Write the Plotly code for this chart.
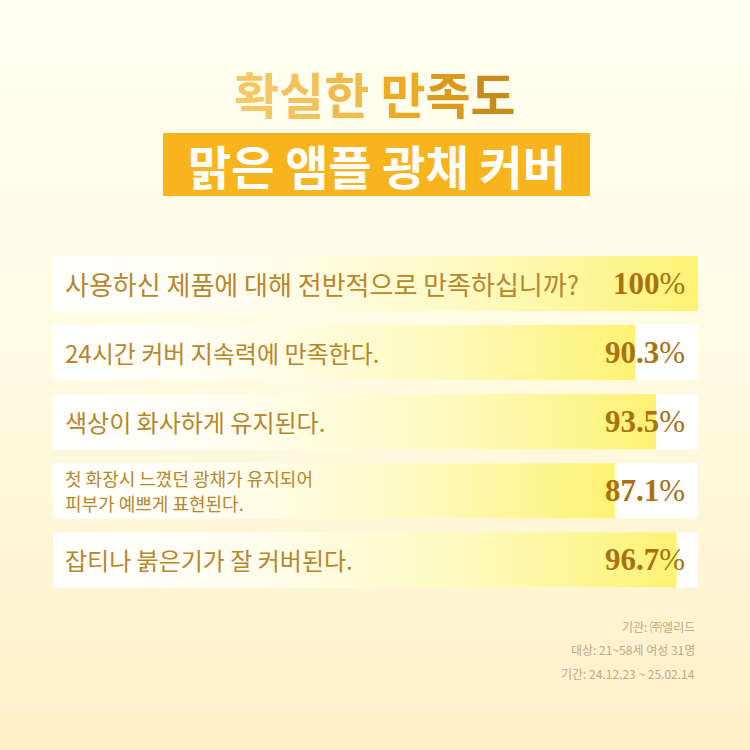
import plotly.graph_objects as go

# ---- data ----
questions = [
    ["사용하신 제품에 대해 전반적으로 만족하십니까?"],
    ["24시간 커버 지속력에 만족한다."],
    ["색상이 화사하게 유지된다."],
    ["첫 화장시 느꼈던 광채가 유지되어", "피부가 예쁘게 표현된다."],
    ["잡티나 붉은기가 잘 커버된다."],
]
values = [100, 90.3, 93.5, 87.1, 96.7]
value_labels = ["100%", "90.3%", "93.5%", "87.1%", "96.7%"]
label_sizes = [26, 24, 24, 18, 24]
title_line1 = "확실한 만족도"
title_line2 = "맑은 앰플 광채 커버"
footer_lines = ["기관: ㈜엘리드", "대상: 21~58세 여성 31명", "기간: 24.12.23 ~ 25.02.14"]

W = H = 750
KR = "Noto Sans CJK KR"
TXT = "#b8862b"
BAR_H = 0.8

bg_svg = (
    "data:image/svg+xml;utf8,"
    "<svg xmlns='http://www.w3.org/2000/svg' width='100' height='100' preserveAspectRatio='none'>"
    "<defs><linearGradient id='g' x1='0' y1='0' x2='0' y2='1'>"
    "<stop offset='0' stop-color='%23fffff2'/><stop offset='0.45' stop-color='%23fffbe4'/>"
    "<stop offset='1' stop-color='%23fff0c8'/></linearGradient></defs>"
    "<rect width='100' height='100' fill='url(%23g)'/></svg>"
)

fig = go.Figure()

# white row backgrounds
fig.add_trace(go.Bar(
    x=[100] * len(values), y=list(range(len(values))), orientation="h",
    width=BAR_H, marker=dict(color="white", line=dict(width=0)),
    hoverinfo="skip", showlegend=False))

# gradient value bars
for i, v in enumerate(values):
    fig.add_trace(go.Scatter(
        x=[0, v, v, 0, 0],
        y=[i - BAR_H / 2, i - BAR_H / 2, i + BAR_H / 2, i + BAR_H / 2, i - BAR_H / 2],
        mode="lines", line=dict(width=0), fill="toself", hoverinfo="skip",
        fillgradient=dict(type="horizontal", start=0, stop=v,
                          colorscale=[[0, "#ffffff"], [0.3, "#fffdf0"],
                                      [0.65, "#fefac0"], [1, "#fdf273"]]),
        showlegend=False))

# labels inside rows
LINE_GAP = 0.181  # in row units, for two-line labels
for i, (q, lab, fs) in enumerate(zip(questions, value_labels, label_sizes)):
    n = len(q)
    for k, line in enumerate(q):
        off = (k - (n - 1) / 2) * 2 * LINE_GAP
        fig.add_annotation(
            x=1.6, y=i + off, xref="x", yref="y", xanchor="left", yanchor="middle",
            text=line, showarrow=False, align="left",
            font=dict(family=KR, size=fs, color=TXT))
    num, pct = lab[:-1], lab[-1]
    fig.add_annotation(
        x=98.3, y=i, xref="x", yref="y", xanchor="right", yanchor="middle",
        text=f"<b>{num}</b>{pct}", showarrow=False,
        font=dict(family="Liberation Serif", size=31, color="#a8720f"))

# title line 1: per-character gold tones
gold = ["#f6c763", "#f4c25a", "#f0bb4c", "#ffffff", "#eeaa22", "#d99a1e", "#c98c1c"]
parts = []
for ch, c in zip(title_line1, gold):
    parts.append(" " if ch == " " else f"<span style='color:{c}'>{ch}</span>")
fig.add_annotation(
    x=0.5, y=1 - 92 / H, xref="paper", yref="paper", xanchor="center", yanchor="middle",
    text="<b>" + "".join(parts) + "</b>", showarrow=False,
    font=dict(family=KR, size=49))

# title line 2 on golden box
fig.add_shape(type="rect", xref="paper", yref="paper",
              x0=163 / W, x1=590 / W, y0=1 - 196 / H, y1=1 - 133 / H,
              fillcolor="#f8b41c", line=dict(width=0), layer="below")
fig.add_annotation(
    x=376.5 / W, y=1 - 165 / H, xref="paper", yref="paper", xanchor="center", yanchor="middle",
    text="<b>" + title_line2 + "</b>", showarrow=False,
    font=dict(family=KR, size=47, color="white"))

# footer
for k, line in enumerate(footer_lines):
    fig.add_annotation(
        x=697 / W, y=1 - (626 + 23.5 * k) / H, xref="paper", yref="paper",
        xanchor="right", yanchor="middle", text=line, showarrow=False,
        font=dict(family=KR, size=12, color="#bfa886"))

fig.add_layout_image(source=bg_svg, xref="paper", yref="paper", x=0, y=1,
                     sizex=1, sizey=1, sizing="stretch", xanchor="left", yanchor="top",
                     layer="below")

y_top_px, y_bot_px = 249, 594.5
fig.update_layout(
    width=W, height=H, margin=dict(l=0, r=0, t=0, b=0),
    paper_bgcolor="#fffbe6", plot_bgcolor="rgba(0,0,0,0)",
    barmode="overlay", showlegend=False,
    xaxis=dict(domain=[53 / W, 698 / W], range=[0, 100], visible=False, fixedrange=True),
    yaxis=dict(domain=[1 - y_bot_px / H, 1 - y_top_px / H], range=[4.5, -0.5],
               visible=False, fixedrange=True),
)
fig.write_html("out.html", config={"displayModeBar": False},
               post_script="document.body.style.margin='0';document.body.style.background='#fffbe6';")
